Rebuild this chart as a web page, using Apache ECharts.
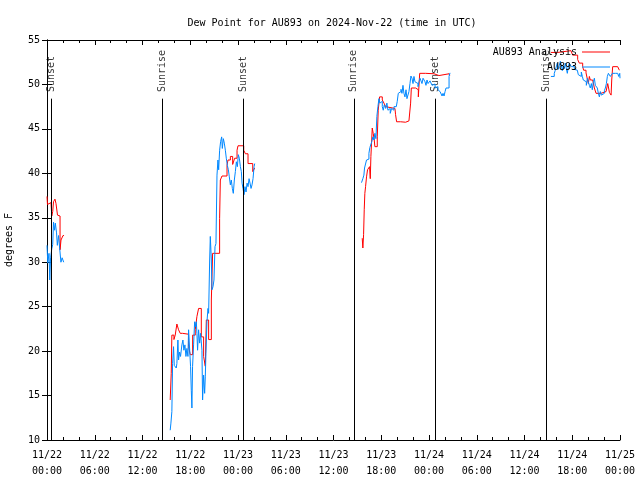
<!DOCTYPE html>
<html><head><meta charset="utf-8">
<script src="https://cdn.jsdelivr.net/npm/echarts@6/dist/echarts.min.js"></script>
<style>html,body{margin:0;padding:0;background:#fff}#c{width:640px;height:480px}</style>
</head><body><div id="c"></div>
<script>
// x values are hours since 2024-11-22 00:00 UTC
const tickLabels = ['11/22\n00:00','11/22\n06:00','11/22\n12:00','11/22\n18:00','11/23\n00:00','11/23\n06:00','11/23\n12:00','11/23\n18:00','11/24\n00:00','11/24\n06:00','11/24\n12:00','11/24\n18:00','11/25\n00:00'];
const sunTimes = [0.58, 14.51, 24.71, 38.56, 48.75, 62.69];
const sunNames = ['Sunset','Sunrise','Sunset','Sunrise','Sunset','Sunrise'];

const analysis1 = [[0.00,37.4],[0.06,36.5],[0.25,36.7],[0.50,36.7],[0.60,35.2],[0.72,35.7],[0.82,36.8],[1.00,37.1],[1.13,36.6],[1.32,35.3],[1.51,35.2],[1.64,31.4],[1.76,32.5],[1.89,32.4],[2.01,33.0],[2.14,33.0]];
const analysis2 = [[15.48,14.5],[15.61,17.5],[15.69,21.8],[15.95,21.3],[16.11,21.8],[16.32,23.05],[16.53,22.4],[16.74,22.0],[17.04,21.9],[17.79,20.5],[18.00,19.6],[18.30,21.8],[18.63,22.4],[18.84,23.9],[19.05,24.8],[19.39,21.6],[19.68,19.4],[19.89,18.3],[20.02,23.5],[20.31,21.3],[20.65,25.75],[20.81,31.0],[21.69,34.9],[21.78,39.25],[21.99,39.7],[22.62,40.9],[22.74,41.5],[23.04,41.9],[23.33,41.0],[23.58,41.7],[23.88,42.6],[24.00,43.1],[24.72,42.6],[24.93,42.2],[25.26,41.1],[25.85,40.2],[26.10,40.6]];
const analysis3 = [[39.61,32.7],[39.69,31.6],[39.78,33.1],[39.86,35.9],[39.94,37.75],[40.03,38.5],[40.15,39.6],[40.28,40.4],[40.53,40.75],[40.62,39.4],[40.70,41.9],[40.78,43.4],[40.87,45.1],[40.99,44.5],[41.12,43.75],[41.20,43.0],[41.50,44.1],[41.62,47.1],[41.79,48.6],[42.13,48.25],[42.34,47.9],[42.55,47.5],[42.76,47.3],[43.72,47.1],[43.80,46.6],[43.93,45.8],[44.43,45.75],[45.06,45.9],[45.48,45.8],[45.69,47.9],[45.78,49.6],[46.32,49.4],[46.66,48.6],[46.83,51.25],[47.58,51.2],[48.63,51.1],[48.84,51.0],[49.26,51.2],[50.52,51.25],[50.60,51.0]];
const analysis4 = [[63.32,53.6],[64.16,53.8],[65.84,53.9],[66.05,53.3],[66.68,52.8],[66.89,52.4],[67.31,52.0],[67.43,51.6],[67.73,51.3],[67.94,51.1],[68.02,50.1],[68.15,50.9],[68.27,50.5],[68.57,50.5],[68.78,49.6],[68.99,49.0],[69.62,49.2],[70.25,49.2],[70.46,50.1],[70.67,49.1],[70.88,48.8],[70.96,50.5],[71.08,52.0],[71.71,51.8],[71.92,51.6]];

const obs1 = [[0.00,31.9],[0.10,29.9],[0.25,31.0],[0.35,28.0],[0.45,30.5],[0.60,31.5],[0.72,32.0],[0.82,34.5],[0.95,33.6],[1.05,34.4],[1.20,33.3],[1.30,31.9],[1.45,33.0],[1.60,31.5],[1.75,30.0],[1.90,30.5],[2.10,30.0]];
const obs2 = [[15.48,11.1],[15.57,11.9],[15.69,13.2],[15.78,18.6],[15.90,20.5],[15.99,18.4],[16.11,18.25],[16.24,18.1],[16.32,18.6],[16.45,21.25],[16.53,19.0],[16.66,19.9],[16.78,19.4],[16.95,20.7],[17.08,21.25],[17.20,20.1],[17.33,20.7],[17.46,19.4],[17.58,20.3],[17.71,19.4],[17.79,22.4],[17.92,22.4],[18.04,18.25],[18.13,15.6],[18.21,13.6],[18.29,18.25],[18.42,20.7],[18.55,23.3],[18.63,22.75],[18.76,23.3],[18.84,22.0],[18.92,20.1],[19.05,22.4],[19.18,20.9],[19.30,22.0],[19.47,20.1],[19.55,14.5],[19.68,17.3],[19.81,15.25],[19.89,17.1],[19.97,19.75],[20.10,23.3],[20.23,24.8],[20.31,24.25],[20.44,30.25],[20.52,32.9],[20.65,30.25],[20.73,26.9],[20.86,27.25],[20.98,28.0],[21.11,31.75],[21.23,32.1],[21.36,39.8],[21.48,41.5],[21.57,40.4],[21.69,42.6],[21.82,43.6],[21.95,44.1],[22.03,42.8],[22.16,43.9],[22.28,43.4],[22.41,42.6],[22.53,41.7],[22.66,40.9],[22.79,40.4],[22.91,39.6],[23.04,38.7],[23.16,39.25],[23.29,38.3],[23.41,37.75],[23.54,39.25],[23.67,40.2],[23.79,41.3],[23.92,40.75],[24.04,42.1],[24.17,41.7],[24.30,40.75],[24.42,40.2],[24.51,38.9],[24.63,38.3],[24.76,37.6],[24.88,38.5],[25.01,37.9],[25.14,38.9],[25.26,38.5],[25.39,39.4],[25.51,38.9],[25.64,38.3],[25.76,38.7],[25.89,39.4],[26.02,40.75],[26.10,41.1]];
const obs3 = [[39.52,38.95],[39.69,39.4],[39.82,39.8],[39.90,40.6],[40.03,40.6],[40.15,41.5],[40.28,41.6],[40.45,42.25],[40.57,42.9],[40.70,43.1],[40.82,43.6],[40.95,44.1],[41.08,43.75],[41.20,44.5],[41.33,43.9],[41.45,46.4],[41.58,47.5],[41.71,48.4],[41.83,47.9],[41.96,48.1],[42.13,47.5],[42.25,47.1],[42.38,47.7],[42.55,47.3],[42.71,47.9],[42.84,47.1],[42.97,47.3],[43.13,46.75],[43.30,47.3],[43.47,47.1],[43.60,47.5],[43.76,47.5],[43.89,47.7],[44.01,48.1],[44.14,49.0],[44.31,49.2],[44.48,49.45],[44.60,49.0],[44.73,49.9],[44.85,49.0],[44.98,48.6],[45.11,49.4],[45.23,48.4],[45.36,48.25],[45.48,49.2],[45.61,50.1],[45.73,50.95],[45.86,50.7],[45.99,50.1],[46.11,50.9],[46.24,50.3],[46.36,50.5],[46.49,50.1],[46.62,49.75],[46.74,50.3],[46.87,50.7],[46.99,50.5],[47.12,50.1],[47.25,50.7],[47.37,50.9],[47.50,50.3],[47.62,49.9],[47.75,50.5],[47.88,50.1],[48.00,49.9],[48.13,50.4],[48.25,50.2],[48.38,49.9],[48.50,50.1],[48.63,50.05],[48.76,49.6],[48.88,49.4],[49.01,49.75],[49.13,49.4],[49.26,49.2],[49.39,49.4],[49.51,49.0],[49.64,48.7],[49.76,49.0],[49.89,48.7],[50.02,49.2],[50.14,49.6],[50.27,49.4],[50.39,49.6],[50.52,50.9],[50.64,51.3]];
const obs4 = [[63.32,50.9],[63.53,50.9],[63.74,51.25],[63.87,51.6],[63.99,51.8],[64.12,52.4],[64.24,51.7],[64.37,52.1],[64.50,52.6],[64.62,52.2],[64.75,51.55],[64.87,52.1],[65.00,51.8],[65.13,52.4],[65.25,52.6],[65.38,51.25],[65.50,52.0],[65.63,52.4],[65.76,52.6],[65.88,52.0],[66.01,52.2],[66.13,52.0],[66.26,51.7],[66.38,51.9],[66.51,51.6],[66.64,51.4],[66.76,51.1],[66.89,51.3],[67.01,50.9],[67.14,51.4],[67.27,50.9],[67.39,50.5],[67.52,50.6],[67.64,50.3],[67.77,49.9],[67.90,50.7],[68.02,50.3],[68.15,49.9],[68.27,49.6],[68.40,50.1],[68.52,49.4],[68.65,50.3],[68.78,50.7],[68.90,49.9],[69.03,50.1],[69.15,49.6],[69.28,49.0],[69.41,48.6],[69.53,49.2],[69.66,48.8],[69.78,48.6],[69.91,49.0],[70.04,49.3],[70.16,49.6],[70.29,50.1],[70.41,50.9],[70.54,51.25],[70.67,51.4],[70.79,50.9],[70.92,51.1],[71.04,51.25],[71.17,51.4],[71.29,51.25],[71.42,51.4],[71.55,51.25],[71.71,51.4],[71.84,50.9],[71.97,51.25],[72.00,50.7]];

const FONT = 'DejaVu Sans Mono';
const RED = '#ff0000', BLUE = '#0088ff';
const SUN_BOTTOM = 10, SUN_TOP = 48.4, SUN_LABEL = 49.15;

function lineSeries(name, data, color) {
  return { name, type: 'line', data, step: 'end', showSymbol: false, symbol: 'none',
    lineStyle: { color, width: 1 }, itemStyle: { color }, animation: false, z: 3 };
}

const series = [];
[analysis1, analysis2, analysis3, analysis4].forEach(d => series.push(lineSeries('AU893 Analysis', d, RED)));
[obs1, obs2, obs3, obs4].forEach(d => series.push(lineSeries('AU893', d, BLUE)));
series.push({
  type: 'scatter', name: 'sun', symbolSize: 1, itemStyle: { color: 'rgba(0,0,0,0)' },
  data: sunTimes.map((t, i) => ({ value: [t, SUN_LABEL], label: { formatter: sunNames[i] } })),
  label: { show: true, position: 'inside', rotate: 90, align: 'left', verticalAlign: 'middle',
    color: '#000', fontFamily: FONT, fontSize: 10 },
  markLine: { silent: true, symbol: 'none', animation: false,
    lineStyle: { color: '#000', width: 1, type: 'solid' }, label: { show: false },
    data: sunTimes.map(t => [{ coord: [t, SUN_BOTTOM] }, { coord: [t, SUN_TOP] }]) },
  animation: false, z: 2
});

const axisCommon = { axisLine: { show: true, lineStyle: { color: '#000', width: 1 } }, splitLine: { show: false } };

const option = {
  animation: false,
  backgroundColor: '#fff',
  title: { text: 'Dew Point for AU893 on 2024-Nov-22 (time in UTC)', left: 327, textAlign: 'center', top: 13,
    textStyle: { fontFamily: FONT, fontSize: 10, fontWeight: 'normal', color: '#000' } },
  legend: [
    { data: ['AU893 Analysis'], right: 25, top: 42, align: 'right', icon: 'rect', itemWidth: 28, itemHeight: 1, itemGap: 0,
      textStyle: { fontFamily: FONT, fontSize: 10, color: '#000' }, selectedMode: false },
    { data: ['AU893'], right: 25, top: 57, align: 'right', icon: 'rect', itemWidth: 28, itemHeight: 1, itemGap: 0,
      textStyle: { fontFamily: FONT, fontSize: 10, color: '#000' }, selectedMode: false }
  ],
  grid: { left: 47, right: 20, top: 40, bottom: 40, containLabel: false, outerBoundsMode: 'none' },
  xAxis: [
    Object.assign({ type: 'value', min: 0, max: 72, interval: 6, position: 'bottom',
      axisTick: { show: true, inside: true, length: 5, lineStyle: { color: '#000' } },
      minorTick: { show: true, splitNumber: 3, length: 3, lineStyle: { color: '#000' } },
      axisLabel: { show: true, margin: 7, fontFamily: FONT, fontSize: 10, color: '#000', lineHeight: 16,
        formatter: v => tickLabels[Math.round(v / 6)] } }, axisCommon),
    Object.assign({ type: 'value', min: 0, max: 72, interval: 6, position: 'top',
      axisTick: { show: true, inside: true, length: 5, lineStyle: { color: '#000' } },
      minorTick: { show: true, splitNumber: 3, length: 3, lineStyle: { color: '#000' } },
      axisLabel: { show: false } }, axisCommon)
  ],
  yAxis: [
    Object.assign({ type: 'value', min: 10, max: 55, interval: 5, position: 'left',
      name: 'degrees F', nameLocation: 'middle', nameGap: 33, nameRotate: 90,
      nameTextStyle: { fontFamily: FONT, fontSize: 10, color: '#000' },
      axisTick: { show: true, inside: true, length: 5, lineStyle: { color: '#000' } },
      axisLabel: { margin: 7, fontFamily: FONT, fontSize: 10, color: '#000' } }, axisCommon),
    Object.assign({ type: 'value', min: 10, max: 55, interval: 5, position: 'right',
      axisTick: { show: true, inside: true, length: 5, lineStyle: { color: '#000' } },
      axisLabel: { show: false } }, axisCommon)
  ],
  series
};

const chart = echarts.init(document.getElementById('c'), null, { renderer: 'canvas' });
chart.setOption(option);
</script></body></html>
